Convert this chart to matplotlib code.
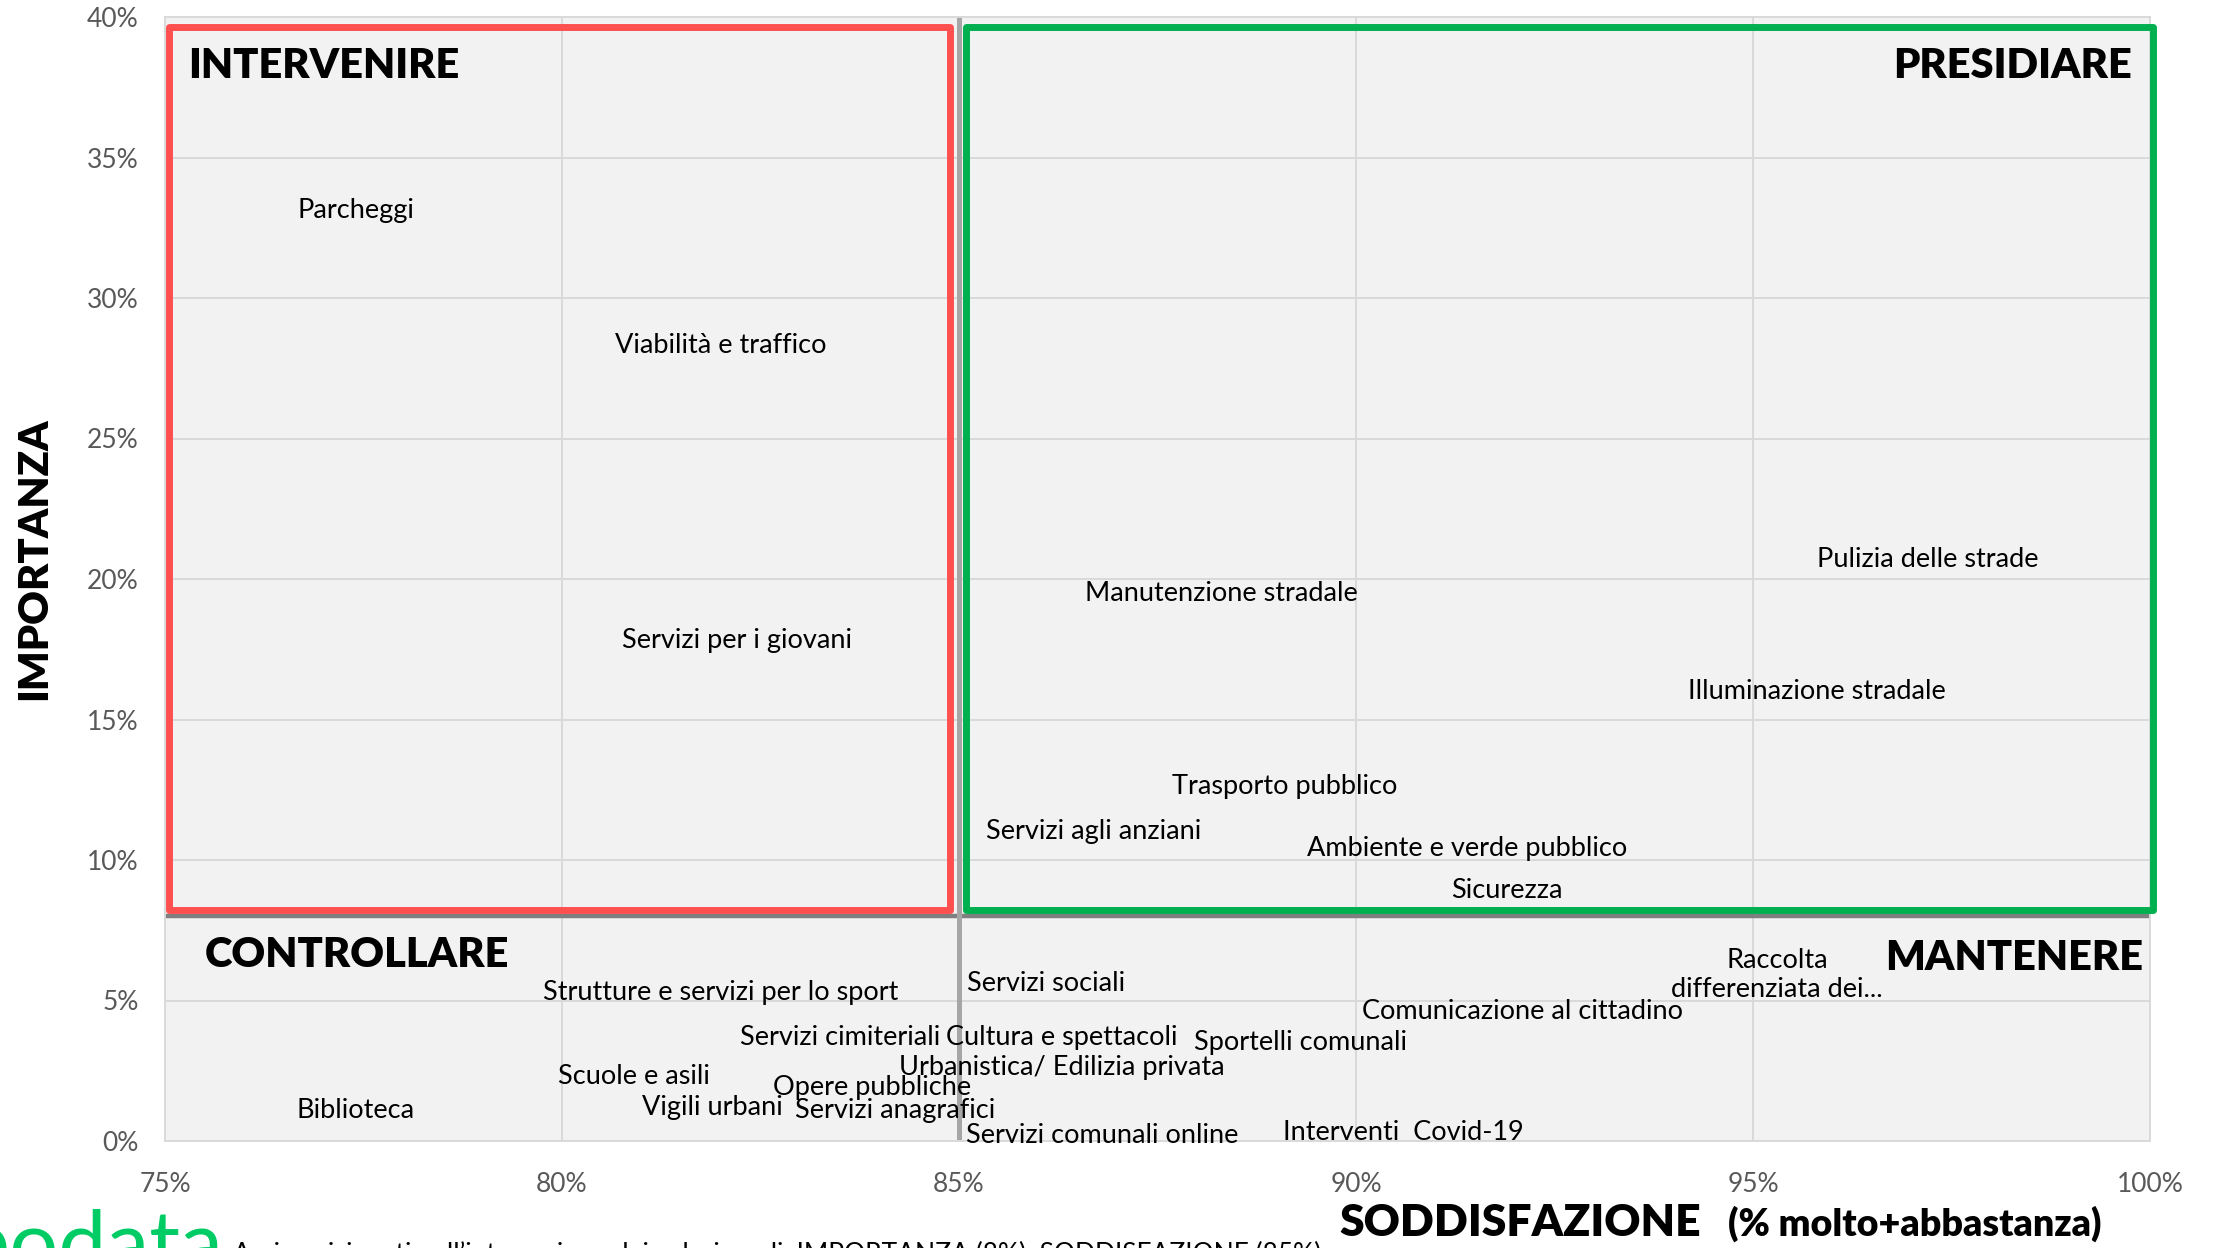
import matplotlib
matplotlib.use('Agg')
import matplotlib.pyplot as plt
from matplotlib.patches import Rectangle
from matplotlib.ticker import FuncFormatter

plt.rcParams['font.family'] = ['Lato', 'DejaVu Sans']

# servizi: soddisfazione (%), importanza (%)
servizi = ['Parcheggi', 'Viabilità e traffico', 'Servizi per i giovani',
           'Manutenzione stradale', 'Pulizia delle strade', 'Illuminazione stradale',
           'Trasporto pubblico', 'Servizi agli anziani', 'Ambiente e verde pubblico',
           'Sicurezza', 'Raccolta\ndifferenziata dei...', 'Servizi sociali',
           'Strutture e servizi per lo sport', 'Comunicazione al cittadino',
           'Servizi cimiteriali', 'Cultura e spettacoli', 'Sportelli comunali',
           'Urbanistica/ Edilizia privata', 'Scuole e asili', 'Opere pubbliche',
           'Biblioteca', 'Vigili urbani', 'Servizi anagrafici',
           'Servizi comunali online', 'Interventi  Covid-19']
soddisfazione = [77.4, 82.0, 82.2, 88.3, 97.2, 95.8, 89.1, 86.7, 91.4, 91.9,
                 95.3, 86.1, 82.0, 92.1, 83.5, 86.3, 89.3, 86.3, 80.9, 83.9,
                 77.4, 81.9, 84.2, 86.8, 90.6]
importanza = [33.1, 28.3, 17.8, 19.5, 20.7, 16.0, 12.6, 11.0, 10.4, 8.9,
              5.9, 5.6, 5.3, 4.6, 3.7, 3.7, 3.5, 2.6, 2.3, 1.9,
              1.1, 1.2, 1.1, 0.2, 0.3]
media_importanza = 8
media_soddisfazione = 85

W, H = 2215, 1248
fig = plt.figure(figsize=(W / 100, H / 100), dpi=100)
ax = fig.add_axes([165 / W, 1 - 1141 / H, (2150 - 165) / W, (1141 - 17) / H])
ax.set_facecolor('#F2F2F2')

ax.set_xlim(75, 100)
ax.set_ylim(0, 40)
ax.set_xticks(range(75, 101, 5))
ax.set_yticks(range(0, 41, 5))
ax.xaxis.set_major_formatter(FuncFormatter(lambda v, p: f'{v:.0f}%'))
ax.yaxis.set_major_formatter(FuncFormatter(lambda v, p: f'{v:.0f}%'))
ax.tick_params(length=0, labelsize=19, labelcolor='#595959')
ax.tick_params(axis='x', pad=22)
ax.tick_params(axis='y', pad=19)
ax.grid(True, color='#D9D9D9', lw=1.4)
ax.set_axisbelow(True)
for s in ax.spines.values():
    s.set_color('#D9D9D9')
    s.set_linewidth(1.4)

ax.axhline(media_importanza, color='#7F7F7F', lw=3.2, zorder=2)
ax.axvline(media_soddisfazione, color='#A6A6A6', lw=3.6, zorder=2)

ax.scatter(soddisfazione, importanza, s=0)
for nome, x, y in zip(servizi, soddisfazione, importanza):
    ax.text(x, y, nome, ha='center', va='center', fontsize=19.5, color='black', zorder=4)

# quadranti
def px(x, y):
    return x / W, 1 - y / H

for (x0, y0, x1, y1), col in [((168.5, 27, 950, 909.5), '#FF5050'),
                              ((965.5, 27, 2153, 909.5), '#00B050')]:
    fig.patches.append(Rectangle(px(x0, y1), (x1 - x0) / W, (y1 - y0) / H,
                                 transform=fig.transFigure, fill=False,
                                 edgecolor=col, lw=5, joinstyle='round', zorder=5))

bold = dict(fontsize=30, fontweight='heavy', color='black', va='center')
fig.text(*px(188, 66), 'INTERVENIRE', ha='left', **bold)
fig.text(*px(2132, 66), 'PRESIDIARE', ha='right', **bold)
fig.text(*px(205, 955), 'CONTROLLARE', ha='left', **bold)
fig.text(*px(2143, 958), 'MANTENERE', ha='right', **bold)

fig.text(*px(34, 559), 'IMPORTANZA', rotation=90, ha='center', va='center',
         fontsize=30, fontweight='heavy')
fig.text(*px(1339, 1236), 'SODDISFAZIONE', ha='left', va='baseline',
         fontsize=32, fontweight='heavy')
fig.text(*px(2102, 1236), '(% molto+abbastanza)', ha='right', va='baseline',
         fontsize=27, fontweight='heavy')

fig.text(*px(233, 1262), 'Assi posizionati nell\u2019intersezione dei valori medi: '
         'IMPORTANZA (8%); SODDISFAZIONE (85%)', ha='left', va='baseline', fontsize=19)
fig.text(*px(-38, 1272), 'podata', ha='left', va='baseline', fontsize=62,
         color='#00CC66')

fig.savefig('out.png', dpi=100, facecolor='white')
